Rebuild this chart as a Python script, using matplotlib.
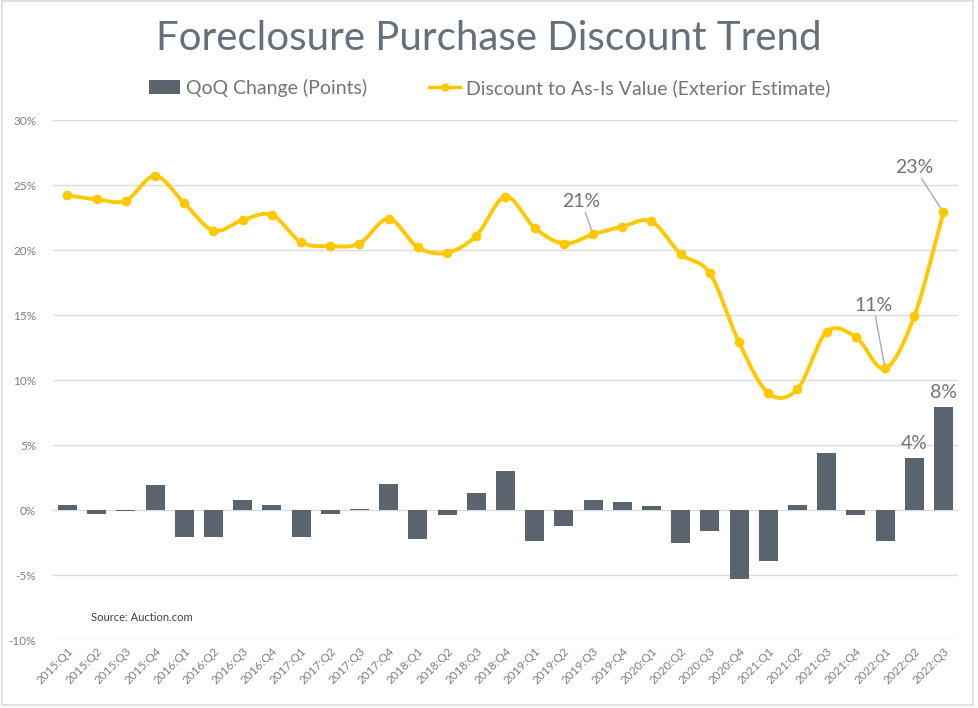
import numpy as np
import matplotlib
matplotlib.use("Agg")
import matplotlib.pyplot as plt
from matplotlib.lines import Line2D
from matplotlib.patches import Patch, Rectangle

plt.rcParams['font.family'] = ['Lato', 'DejaVu Sans']

quarters = ["2015:Q1", "2015:Q2", "2015:Q3", "2015:Q4",
            "2016:Q1", "2016:Q2", "2016:Q3", "2016:Q4",
            "2017:Q1", "2017:Q2", "2017:Q3", "2017:Q4",
            "2018:Q1", "2018:Q2", "2018:Q3", "2018:Q4",
            "2019:Q1", "2019:Q2", "2019:Q3", "2019:Q4",
            "2020:Q1", "2020:Q2", "2020:Q3", "2020:Q4",
            "2021:Q1", "2021:Q2", "2021:Q3", "2021:Q4",
            "2022:Q1", "2022:Q2", "2022:Q3"]

discount = [24.2, 23.9, 23.8, 25.7,
            23.6, 21.5, 22.3, 22.7,
            20.6, 20.3, 20.5, 22.4,
            20.2, 19.8, 21.1, 24.1,
            21.7, 20.5, 21.2, 21.8,
            22.2, 19.7, 18.2, 12.9,
            9.0, 9.3, 13.7, 13.3,
            10.9, 14.9, 22.9]

qoq_change = [0.4, -0.3, -0.1, 1.9,
              -2.1, -2.1, 0.8, 0.4,
              -2.1, -0.3, 0.1, 2.0,
              -2.2, -0.4, 1.3, 3.0,
              -2.4, -1.2, 0.8, 0.6,
              0.3, -2.5, -1.6, -5.3,
              -3.9, 0.4, 4.4, -0.4,
              -2.4, 4.0, 7.9]

yticks = [-10, -5, 0, 5, 10, 15, 20, 25, 30]

BAR = "#59646E"
LINE = "#FFC800"
TXT = "#7F7F7F"
GRID = "#D9DCDF"
LBL = "#70757A"

fig = plt.figure(figsize=(9.79, 7.08), dpi=100)
ax = fig.add_axes([0.054, 0.096, 0.9246, 0.7345])

x = np.arange(len(quarters))
ax.bar(x, qoq_change, width=0.65, color=BAR, zorder=3)


def catmull_rom(xs, ys, n=20):
    xs = np.asarray(xs, float)
    ys = np.asarray(ys, float)
    px = np.concatenate([[2 * xs[0] - xs[1]], xs, [2 * xs[-1] - xs[-2]]])
    py = np.concatenate([[2 * ys[0] - ys[1]], ys, [2 * ys[-1] - ys[-2]]])
    ox, oy = [], []
    t = np.linspace(0, 1, n, endpoint=False)
    for i in range(1, len(px) - 2):
        p0, p1, p2, p3 = py[i - 1], py[i], py[i + 1], py[i + 2]
        q0, q1, q2, q3 = px[i - 1], px[i], px[i + 1], px[i + 2]
        fy = 0.5 * ((2 * p1) + (-p0 + p2) * t + (2 * p0 - 5 * p1 + 4 * p2 - p3) * t ** 2
                    + (-p0 + 3 * p1 - 3 * p2 + p3) * t ** 3)
        fx = 0.5 * ((2 * q1) + (-q0 + q2) * t + (2 * q0 - 5 * q1 + 4 * q2 - q3) * t ** 2
                    + (-q0 + 3 * q1 - 3 * q2 + q3) * t ** 3)
        ox.extend(fx)
        oy.extend(fy)
    ox.append(xs[-1])
    oy.append(ys[-1])
    return np.array(ox), np.array(oy)


sx, sy = catmull_rom(x, discount)
ax.plot(sx, sy, color=LINE, lw=2.8, zorder=4, solid_capstyle='round')
ax.plot(x, discount, 'o', color=LINE, ms=6, zorder=5)

ax.set_xlim(-0.5, len(quarters) - 0.5)
ax.set_ylim(-10, 30)
ax.set_yticks(yticks)
ax.set_yticklabels([f"{v}%" for v in yticks])
ax.set_xticks(x)
ax.set_xticklabels(quarters, rotation=45, ha='right', rotation_mode='anchor')
ax.tick_params(axis='both', length=0, colors=TXT, labelsize=8.5)
ax.tick_params(axis='y', pad=12)
ax.tick_params(axis='x', pad=4)
ax.grid(axis='y', color=GRID, lw=1, zorder=0)
for s in ax.spines.values():
    s.set_visible(False)

# annotations
ann_kw = dict(color=LBL, fontsize=14, ha='center', va='bottom',
              arrowprops=dict(arrowstyle='-', color='#A6AAAE', lw=1, shrinkA=0, shrinkB=2))
ax.annotate("21%", xy=(18, discount[18]), xytext=(17.6, 23.1), **ann_kw)
ax.annotate("11%", xy=(28, discount[28]), xytext=(27.6, 15.1), **ann_kw)
ax.annotate("23%", xy=(30, discount[30]), xytext=(29.0, 25.7), **ann_kw)
ax.text(29, qoq_change[29] + 0.5, "4%", color=LBL, fontsize=14, ha='center', va='bottom')
ax.text(30, qoq_change[30] + 0.5, "8%", color=LBL, fontsize=14, ha='center', va='bottom')

ax.text(0.8, -8.3, "Source: Auction.com", fontsize=8, color="#404040",
        ha='left', va='center')

fig.text(0.499, 0.945, "Foreclosure Purchase Discount Trend", ha='center', va='center',
         fontsize=29, color="#66707A", fontweight='normal')

handles = [Patch(facecolor=BAR, edgecolor='none'),
           Line2D([0], [0], color=LINE, lw=2.5, marker='o', ms=5)]
fig.legend(handles, ["QoQ Change (Points)", "Discount to As-Is Value (Exterior Estimate)"],
           loc='center', bbox_to_anchor=(0.5, 0.876), ncol=2, frameon=False,
           fontsize=14, labelcolor=LBL, handlelength=1.6, handletextpad=0.3,
           columnspacing=3.2)

fig.patches.append(Rectangle((0.002, 0.004), 0.992, 0.994, transform=fig.transFigure,
                             fill=False, edgecolor="#D9DCDF", lw=1.2))

fig.savefig("out.png", dpi=100, facecolor='white')
